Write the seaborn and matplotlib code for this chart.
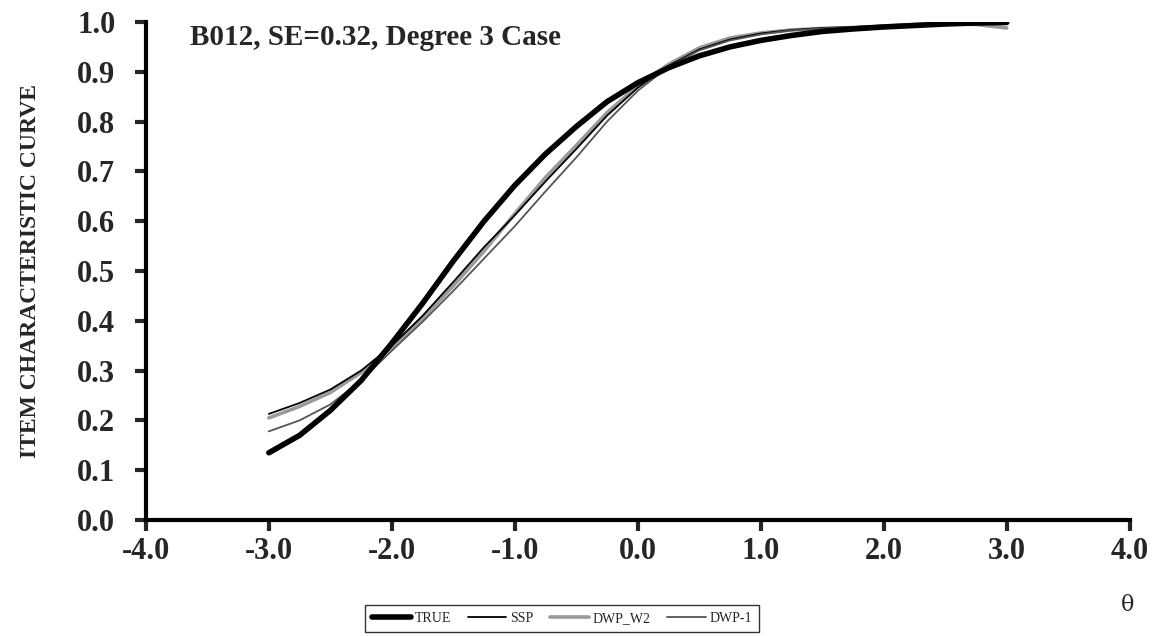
import numpy as np
import pandas as pd
import matplotlib
matplotlib.use("Agg")
import matplotlib.pyplot as plt
import seaborn as sns

theta = [-3.0, -2.75, -2.5, -2.25, -2.0, -1.75, -1.5, -1.25, -1.0, -0.75, -0.5, -0.25,
         0.0, 0.25, 0.5, 0.75, 1.0, 1.25, 1.5, 1.75, 2.0, 2.25, 2.5, 2.75, 3.0]

true_icc = [0.135, 0.170, 0.220, 0.280, 0.355, 0.435, 0.520, 0.600, 0.672, 0.735, 0.790, 0.840,
            0.878, 0.908, 0.932, 0.950, 0.963, 0.973, 0.981, 0.986, 0.990, 0.993, 0.996, 0.998, 0.999]
ssp = [0.213, 0.235, 0.262, 0.300, 0.350, 0.410, 0.478, 0.548, 0.612, 0.680, 0.745, 0.812,
       0.868, 0.912, 0.945, 0.965, 0.977, 0.984, 0.988, 0.990, 0.992, 0.994, 0.996, 0.998, 1.000]
dwp_w2 = [0.205, 0.228, 0.256, 0.296, 0.347, 0.405, 0.470, 0.540, 0.615, 0.688, 0.752, 0.818,
          0.872, 0.915, 0.948, 0.968, 0.978, 0.984, 0.987, 0.989, 0.992, 0.995, 0.997, 0.995, 0.988]
dwp_1 = [0.178, 0.200, 0.232, 0.280, 0.340, 0.398, 0.460, 0.525, 0.590, 0.660, 0.728, 0.800,
         0.862, 0.910, 0.943, 0.963, 0.975, 0.983, 0.987, 0.990, 0.993, 0.996, 0.998, 0.999, 0.998]

series_names = ["TRUE", "SSP", "DWP_W2", "DWP-1"]
x_ticks = [-4.0, -3.0, -2.0, -1.0, 0.0, 1.0, 2.0, 3.0, 4.0]
y_ticks = [0.0, 0.1, 0.2, 0.3, 0.4, 0.5, 0.6, 0.7, 0.8, 0.9, 1.0]
title_text = "B012, SE=0.32, Degree 3 Case"
y_label = "ITEM CHARACTERISTIC CURVE"
x_label = "\u03b8"

sns.set_style("ticks")
plt.rcParams['font.family'] = ['Liberation Serif', 'DejaVu Serif']

fig = plt.figure(figsize=(11.67, 6.36), dpi=100)
ax = fig.add_axes([0.125, 0.1824, 0.843, 0.783])

styles = {
    "TRUE": dict(color="black", linewidth=4.0, zorder=5),
    "SSP": dict(color="black", linewidth=1.3, zorder=4),
    "DWP_W2": dict(color="#9a9a9a", linewidth=2.6, zorder=3),
    "DWP-1": dict(color="#555555", linewidth=1.3, zorder=4),
}
data = {"TRUE": true_icc, "SSP": ssp, "DWP_W2": dwp_w2, "DWP-1": dwp_1}
for name in series_names:
    df = pd.DataFrame({"theta": theta, "p": data[name]})
    sns.lineplot(data=df, x="theta", y="p", ax=ax, label=name, **styles[name])

ax.set_xlim(-4, 4)
ax.set_ylim(0, 1)
ax.set_xticks(x_ticks)
ax.set_yticks(y_ticks)
ax.set_xticklabels([f"{v:.1f}" for v in x_ticks], fontsize=22, fontweight="bold")
ax.set_yticklabels([f"{v:.1f}" for v in y_ticks], fontsize=22, fontweight="bold")
ax.set_xlabel("")
ax.set_ylabel(y_label, fontsize=17, fontweight="bold", labelpad=26)
ax.tick_params(axis="y", direction="out", length=8, width=3, pad=14)
ax.tick_params(axis="x", direction="out", length=8, width=3, pad=4)
for s in ["top", "right"]:
    ax.spines[s].set_visible(False)
for s in ["left", "bottom"]:
    ax.spines[s].set_linewidth(3)
    ax.spines[s].set_color("black")

ax.text(0.045, 0.995, title_text, transform=ax.transAxes, fontsize=21,
        fontweight="bold", ha="left", va="top")

fig.text(0.966, 0.048, x_label, fontsize=16, ha="center", va="center",
         family=['DejaVu Serif'])

leg = ax.legend(loc="center", bbox_to_anchor=(0.4815, 0.028), bbox_transform=fig.transFigure,
                ncol=4, frameon=True, fancybox=False, fontsize=10, handlelength=2.8,
                columnspacing=1.2, handletextpad=0.25, borderpad=0.5)
leg.get_frame().set_edgecolor("black")
leg.get_frame().set_linewidth(1.0)

fig.savefig("out.png", dpi=100)
